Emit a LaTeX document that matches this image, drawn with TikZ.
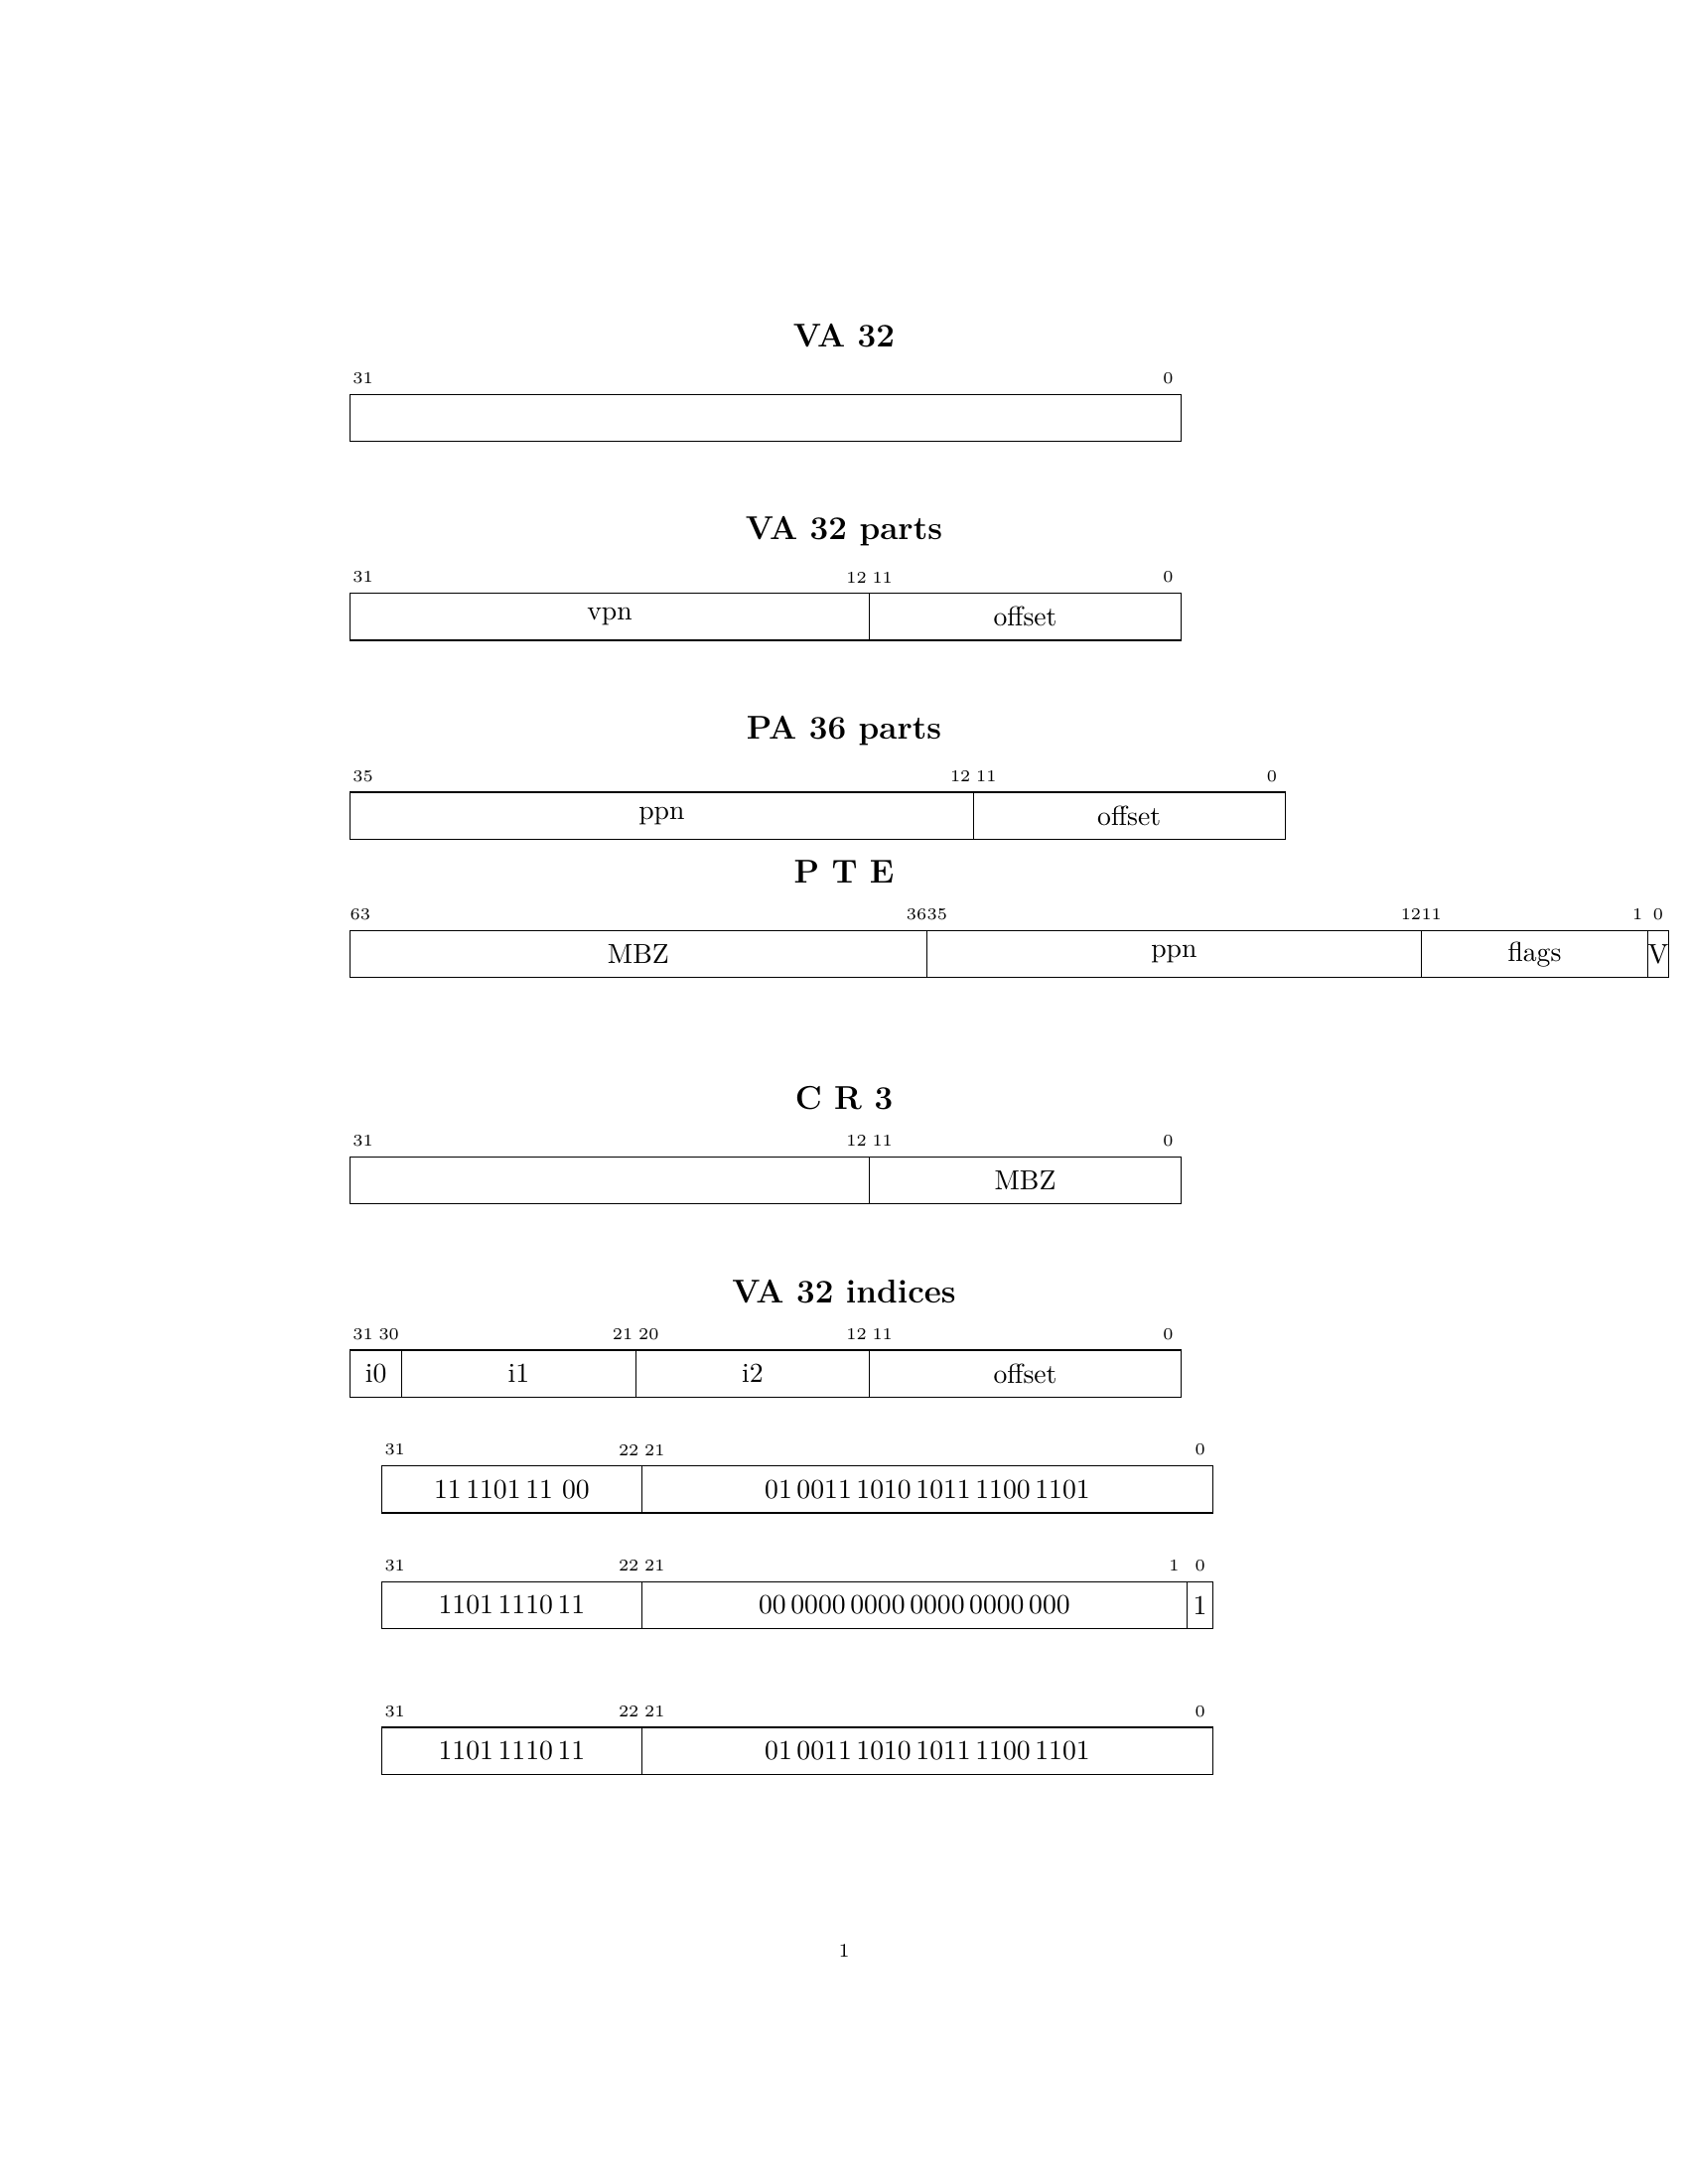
\documentclass[tikz,border=0pt]{standalone}
\usetikzlibrary{positioning}
\newcommand{\bw}{0.3322cm}
\newcommand{\pw}{0.2635cm}

\begin{document}
\begin{tikzpicture}
        [field/.style={draw, inner sep=0pt, outer sep=0pt, minimum height=0.6cm, minimum width=#1},
    bitnum/.style={anchor=south, inner sep=0pt, font=\fontsize{6}{7}\selectfont},
    title/.style={anchor=south, inner sep=0pt, font=\large\bfseries},
    node distance=0pt]
    \useasboundingbox (0,0) rectangle (21.59,-27.94);

    % VA 32
    \node[title] (vatitle) at (10.795,-4.449) {VA 32};
    \node[field=32*\bw, anchor=north west] (va) at (4.476,-5.046) {};
    \foreach \b/\n in {0.5/31, 31.5/0}
        \node[bitnum] (va-\n) at ([xshift=\b*\bw, yshift=1.27mm]va.north west) {\n};

    % VA 32 parts
    \node[title] (partstitle) at (10.795,-6.994) {VA 32 parts};
    \node[field=20*\bw, anchor=north west] (vpn) at (4.476,-7.591) {vpn};
    \node[field=12*\bw, right=of vpn] (vaoff) {offset};
    \foreach \b/\n in {0.5/31, 19.5/12, 20.5/11, 31.5/0}
        \node[bitnum] (vp-\n) at ([xshift=\b*\bw, yshift=1.27mm]vpn.north west) {\n};

    % PA 36 parts
    \node[title] (patitle) at (10.795,-9.538) {PA 36 parts};
    \node[field=24*\bw, anchor=north west] (ppn) at (4.476,-10.135) {ppn};
    \node[field=12*\bw, right=of ppn] (paoff) {offset};
    \foreach \b/\n in {0.5/35, 23.5/12, 24.5/11, 35.5/0}
        \node[bitnum] (pa-\n) at ([xshift=\b*\bw, yshift=1.27mm]ppn.north west) {\n};

    % PTE
    \node[title] (ptetitle) at (10.795,-11.309) {P T E};
    \node[field=28*\pw, anchor=north west] (mbz) at (4.476,-11.906) {MBZ};
    \node[field=24*\pw, right=of mbz] (pteppn) {ppn};
    \node[field=11*\pw, right=of pteppn] (flags) {flags};
    \node[field=1*\pw, right=of flags] (valid) {V};
    \foreach \b/\n in {0.5/63, 27.5/36, 28.5/35, 51.5/12, 52.5/11, 62.5/1, 63.5/0}
        \node[bitnum] (pte-\n) at ([xshift=\b*\pw, yshift=1.27mm]mbz.north west) {\n};

    % CR3
    \node[title] (crtitle) at (10.795,-14.202) {C R 3};
    \node[field=20*\bw, anchor=north west] (crbase) at (4.476,-14.799) {};
    \node[field=12*\bw, right=of crbase] (crmbz) {MBZ};
    \foreach \b/\n in {0.5/31, 19.5/12, 20.5/11, 31.5/0}
        \node[bitnum] (cr-\n) at ([xshift=\b*\bw, yshift=1.27mm]crbase.north west) {\n};

    % VA 32 indices
    \node[title] (idxtitle) at (10.795,-16.675) {VA 32 indices};
    \node[field=2*\bw, anchor=north west] (i0) at (4.476,-17.272) {i0};
    \node[field=9*\bw, right=of i0] (i1) {i1};
    \node[field=9*\bw, right=of i1] (i2) {i2};
    \node[field=12*\bw, right=of i2] (idxoff) {offset};
    \foreach \b/\n in {0.5/31, 1.5/30, 10.5/21, 11.5/20, 19.5/12, 20.5/11, 31.5/0}
        \node[bitnum] (ix-\n) at ([xshift=\b*\bw, yshift=1.27mm]i0.north west) {\n};

    % worked values
    \node[field=10*\bw, anchor=north west] (hiA) at (4.885,-18.754) {11\,1101\,11\ 00};
    \node[field=22*\bw, right=of hiA] (loA) {01\,0011\,1010\,1011\,1100\,1101};
    \foreach \b/\n in {0.5/31, 9.5/22, 10.5/21, 31.5/0}
        \node[bitnum] (a-\n) at ([xshift=\b*\bw, yshift=1.27mm]hiA.north west) {\n};

    \node[field=10*\bw, anchor=north west] (hiB) at (4.885,-20.235) {1101\,1110\,11};
    \node[field=21*\bw, right=of hiB] (loB) {00\,0000\,0000\,0000\,0000\,000};
    \node[field=1*\bw, right=of loB] (bitB) {1};
    \foreach \b/\n in {0.5/31, 9.5/22, 10.5/21, 30.5/1, 31.5/0}
        \node[bitnum] (b-\n) at ([xshift=\b*\bw, yshift=1.27mm]hiB.north west) {\n};

    \node[field=10*\bw, anchor=north west] (hiC) at (4.885,-22.098) {1101\,1110\,11};
    \node[field=22*\bw, right=of hiC] (loC) {01\,0011\,1010\,1011\,1100\,1101};
    \foreach \b/\n in {0.5/31, 9.5/22, 10.5/21, 31.5/0}
        \node[bitnum] (c-\n) at ([xshift=\b*\bw, yshift=1.27mm]hiC.north west) {\n};

    \node[font=\scriptsize] (pagenum) at (10.795,-24.956) {1};
    \end{tikzpicture}
\end{document}
